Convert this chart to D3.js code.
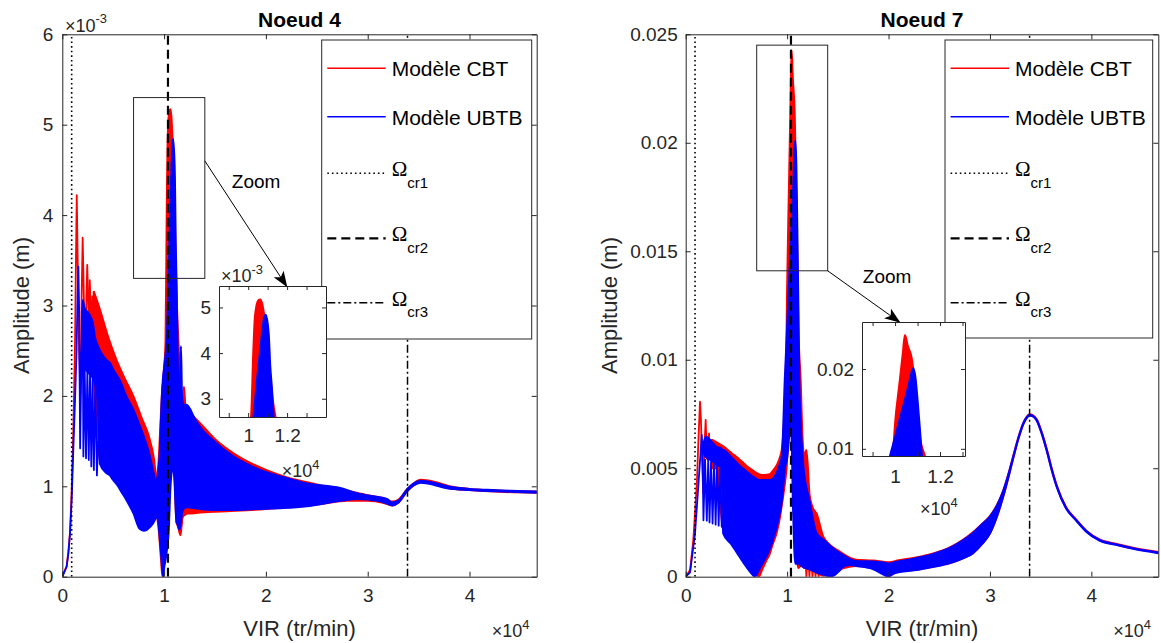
<!DOCTYPE html>
<html><head><meta charset="utf-8">
<script src="https://cdn.jsdelivr.net/npm/d3@7"></script>
<style>html,body{margin:0;padding:0;background:#fff;} svg{display:block;}</style>
</head><body>
<script>
// ================= DATA =================
// x values in tr/min, amplitudes in mm (x10^-3 m)
const seriesNames = ["Modèle CBT", "Modèle UBTB"];
const seriesColors = ["#ff0000", "#0000ff"];
const critSpeeds = [920, 10380, 33910];          // Ωcr1, Ωcr2, Ωcr3
const critNames = ["cr1", "cr2", "cr3"];
const panelTitles = ["Noeud 4", "Noeud 7"];

const xTicks = [0, 10000, 20000, 30000, 40000];
const xTickLabels = ["0", "1", "2", "3", "4"];
const n4YTicks = [0, 1, 2, 3, 4, 5, 6];
const n4YTickLabels = ["0", "1", "2", "3", "4", "5", "6"];
const n7YTicks = [0, 5, 10, 15, 20, 25];
const n7YTickLabels = ["0", "0.005", "0.01", "0.015", "0.02", "0.025"];
const insetXTicks = [9000, 10000, 11000, 12000, 13000];
const insetXTickLabels = ["", "1", "", "1.2", ""];
const n4InsetYTicks = [3, 4, 5];
const n4InsetYTickLabels = ["3", "4", "5"];
const n7InsetYTicks = [10, 20];
const n7InsetYTickLabels = ["0.01", "0.02"];

// ---- Noeud 4, Modèle CBT ----
const n4CbtLineX = [0,430,600,760,920,1080,1250,1350,1420,1500,1650,1780,1900,2000,2100,2220,2350,2450,2550,2630,2700,2800,2870,2950,3050,3100];
const n4CbtLineY = [0,0.12,0.28,0.5,0.95,1.6,2.6,3.6,4.22,3.6,2.5,2.03,3.1,3.75,3.2,2.4,3.0,3.45,3.0,2.5,3.28,2.9,2.5,3.1,2.7,3.15];
const n4CbtBandX = [3100,3700,4500,5300,6000,7000,7800,8500,9000,9250,9450,9700,9850,9900,10000,10150,10270,10350,10520,10620,10700,10830,11000,11130,11250,11400,11600,11700,11800,11950,12100,12200,12500,13500,15000,17000,20000,22000,25000,28000,30000,31500,32400,33000,33900,34500,35200,36500,38000,40000,43000,46600];
const n4CbtBandHi = [3.15,2.95,2.65,2.40,2.22,1.99,1.75,1.55,1.30,1.08,1.25,1.80,2.10,2.14,2.30,2.60,4.06,4.79,5.15,5.17,5.10,4.80,4.20,3.50,3.00,2.60,2.10,1.95,1.90,2.10,1.87,1.87,1.82,1.70,1.52,1.35,1.18,1.10,1.02,0.95,0.90,0.87,0.83,0.85,0.97,1.03,1.07,1.05,1.00,0.97,0.95,0.94];
const n4CbtBandLo = [2.2,1.3,1.2,1.1,0.95,0.75,0.60,0.60,0.65,0.68,0.55,0.20,0.00,0.05,0.20,0.40,0.60,0.80,1.50,1.80,1.80,1.50,1.40,0.80,0.60,0.55,0.46,0.55,0.65,0.68,0.69,0.70,0.70,0.71,0.72,0.73,0.75,0.77,0.80,0.84,0.84,0.82,0.79,0.82,0.95,1.01,1.05,1.03,0.98,0.96,0.94,0.93];

// ---- Noeud 4, Modèle UBTB ----
const n4UbtbLineX = [0,430,600,760,920,1080,1250,1400,1500,1580,1660,1750,1880,2000,2070,2200,2330,2465,2600,2725,2850,2975,3100,3250,3400,3520];
const n4UbtbLineY = [0,0.11,0.26,0.48,0.85,1.4,1.95,2.5,3.1,3.43,2.9,1.42,2.4,3.0,1.33,2.3,1.31,2.3,1.29,2.25,1.22,2.2,1.18,2.15,1.12,1.5];
const n4UbtbBandX = [1750,1900,2000,2150,2600,3000,3200,3500,3700,4300,4700,5000,5500,5700,6300,7000,7600,8000,8300,8600,8900,9200,9350,9600,9750,9900,10000,10150,10270,10440,10620,10830,10900,11050,11130,11220,11300,11400,11500,11650,11750,11900,12200,13000,13500,15000,16800,19000,21700,24000,27300,29000,31000,31900,32400,33000,33900,34500,35200,36000,37800,40000,41700,44000,46600];
const n4UbtbBandHi = [2.45,2.5,3.06,2.98,2.91,2.80,2.65,2.55,2.50,2.40,2.36,2.29,2.20,2.16,1.99,1.84,1.67,1.55,1.45,1.33,1.18,1.05,1.10,1.40,1.90,2.20,2.30,2.45,2.60,3.34,4.06,4.79,4.84,4.43,3.71,3.20,2.60,2.00,1.70,2.55,2.00,1.90,1.90,1.75,1.66,1.49,1.33,1.20,1.10,1.03,0.98,0.92,0.88,0.86,0.82,0.84,0.97,1.03,1.06,1.05,1.00,0.97,0.96,0.95,0.94];
const n4UbtbBandLo = [2.35,2.3,2.3,2.3,2.25,2.2,2.15,1.9,1.25,1.15,1.12,1.07,1.00,0.96,0.85,0.70,0.53,0.51,0.52,0.55,0.59,0.65,0.66,0.41,0.20,0.00,0.10,0.20,0.30,0.50,1.00,1.20,1.20,1.00,0.80,0.60,0.59,0.55,0.52,0.60,0.70,0.75,0.77,0.76,0.75,0.74,0.74,0.75,0.76,0.78,0.84,0.86,0.84,0.81,0.79,0.82,0.95,1.01,1.04,1.03,0.98,0.96,0.95,0.94,0.93];

// ---- Noeud 7, Modèle CBT ----
const n7CbtLineX = [0,430,750,1100,1240,1410,1500,1600,1730,1850,1970,2080,2150,2300,2380,2450,2550,2620];
const n7CbtLineY = [0,0.31,1.69,4.3,6.1,8.07,7.3,5.5,3.85,6.0,7.23,5.6,5.4,6.6,5.7,5.5,6.3,6.3];
const n7CbtTeethX = [11750,11900,12050,12200,12350,12500,12650,12800,12950,13100,13250];
const n7CbtTeethY = [1.3,0.0,1.3,0.0,1.2,0.0,1.1,0.0,1.0,0.0,0.9];
const n7CbtBandX = [2600,3000,3700,4500,5350,6000,6500,7000,7200,7500,8000,8300,8500,9000,9300,9500,9850,9950,10000,10200,10350,10440,10550,10740,10890,11000,11100,11330,11500,11700,11900,12200,12500,12900,13600,15200,16800,18500,20000,21000,22700,24500,26000,27300,28300,29200,30000,30700,31300,31900,32300,32800,33300,33650,33900,34200,34600,35100,35600,36100,36600,37500,38500,39500,40800,42500,44100,46600];
const n7CbtBandHi = [6.3,6.2,6.0,5.7,5.38,5.10,4.93,4.77,4.72,4.68,4.69,4.72,4.82,5.15,5.5,5.9,9.1,11.0,13.0,18.2,22.0,24.26,23.0,21.3,17.8,14.5,11.5,9.0,6.5,5.5,5.84,3.8,3.2,2.9,1.8,1.15,0.78,0.74,0.66,0.75,0.88,1.08,1.33,1.68,2.03,2.42,2.79,3.3,3.95,4.85,5.55,6.4,7.09,7.38,7.48,7.44,7.25,6.65,5.86,4.95,4.17,3.2,2.63,2.12,1.71,1.5,1.33,1.13];
const n7CbtBandLo = [5.0,5.0,2.2,1.7,1.1,0.6,0.35,0.08,0.0,0.3,0.8,1.08,1.4,2.1,2.77,3.4,4.6,5.07,5.5,7.0,8.0,8.0,7.0,4.0,2.0,0.8,0.4,0.5,0.5,0.4,0.4,0.35,0.3,0.2,0.05,0.35,0.5,0.4,0.05,0.25,0.32,0.48,0.62,0.85,1.08,1.5,2.0,2.8,3.7,4.75,5.5,6.38,7.07,7.36,7.46,7.42,7.23,6.63,5.84,4.93,4.15,3.18,2.61,2.10,1.69,1.48,1.31,1.11];

// ---- Noeud 7, Modèle UBTB ----
const n7UbtbLineX = [0,430,920,1240,1450,1580,1660,1750,1910,2080,2220,2350,2500,2650,2800,2950,3100,3250,3400,3550,3650];
const n7UbtbLineY = [0,0.2,2.0,4.15,5.6,6.54,5.8,2.6,5.4,2.58,5.4,2.5,5.3,2.45,5.3,2.4,5.2,2.35,5.1,2.3,3.0];
const n7UbtbBandX = [1700,2000,2400,3000,3500,3650,3700,4500,5350,6000,6500,6830,7000,7200,8300,9300,9500,9780,10000,10200,10400,10600,10810,10900,11000,11100,11190,11300,11600,12200,12900,13600,14300,15200,15500,16200,16800,18500,19500,20000,20500,22700,24500,26000,27300,28300,29200,30000,30700,31300,31900,32300,32800,33300,33650,33900,34200,34600,35100,35600,36100,36600,37500,38500,39500,40800,42500,44100,46600];
const n7UbtbBandHi = [6.0,6.46,6.3,6.0,5.9,5.84,5.84,5.5,5.1,4.85,4.65,4.55,4.5,4.45,4.45,5.2,5.6,9.1,11.4,13.6,15.7,17.9,20.1,19.0,16.0,12.5,9.1,7.5,5.07,3.5,2.0,1.7,1.4,1.08,1.0,0.8,0.72,0.70,0.65,0.6,0.65,0.85,1.06,1.31,1.66,2.0,2.4,2.77,3.28,3.93,4.83,5.53,6.38,7.07,7.36,7.46,7.42,7.23,6.63,5.84,4.93,4.15,3.18,2.61,2.10,1.69,1.48,1.31,1.11];
const n7UbtbBandLo = [5.8,5.5,5.4,5.2,5.0,3.5,2.0,1.5,0.9,0.45,0.15,0.0,0.1,0.3,1.3,3.0,3.6,5.0,5.5,6.5,7.0,3.0,0.6,0.6,0.6,0.6,0.63,0.55,0.45,0.35,0.2,0.1,0.0,0.3,0.46,0.54,0.5,0.35,0.1,0.0,0.15,0.31,0.46,0.62,0.84,1.08,1.5,2.0,2.8,3.7,4.75,5.5,6.36,7.05,7.34,7.44,7.40,7.21,6.61,5.82,4.91,4.13,3.16,2.59,2.08,1.67,1.46,1.29,1.09];

// zoom annotations (data coordinates)
const n4ZoomRect = [7000, 14000, 3.3, 5.3];
const n4Arrow = [[14000, 4.6], [22050, 3.21]];
const n4ZoomText = [16650, 4.30];
const n7ZoomRect = [7000, 14000, 14.1, 24.5];
const n7Arrow = [[14000, 14.1], [21100, 11.73]];
const n7ZoomText = [17470, 13.55];

// ================= DRAWING =================
const FONT = '"Liberation Sans", Arial, Helvetica, sans-serif';
const SERIF = '"Liberation Serif", "DejaVu Serif", serif';
const AX = '#262626';
const W = 1161, H = 643;
const svg = d3.select('body').append('svg').attr('width', W).attr('height', H)
  .attr('font-family', FONT);
const defs = svg.append('defs');
defs.append('marker').attr('id', 'arrowhead').attr('viewBox', '0 0 16 12')
  .attr('refX', 15).attr('refY', 6).attr('markerWidth', 16).attr('markerHeight', 12)
  .attr('markerUnits', 'userSpaceOnUse').attr('orient', 'auto')
  .append('path').attr('d', 'M0,0 L16,6 L0,12 L4,6 Z').attr('fill', '#000');

const critStyles = [
  {dash: '1.6,3', w: 1.6},
  {dash: '9,5', w: 2.2},
  {dash: '8,3,2,3', w: 1.5}
];

let clipCount = 0;
function makeAxes(cfg) {
  const x = d3.scaleLinear().domain(cfg.xDomain).range(cfg.xRange);
  const y = d3.scaleLinear().domain(cfg.yDomain).range(cfg.yRange);
  const g = svg.append('g');
  const [x0, x1] = cfg.xRange, [y0, y1] = cfg.yRange;
  if (cfg.background) g.append('rect').attr('x', x0).attr('y', y1)
    .attr('width', x1 - x0).attr('height', y0 - y1).attr('fill', '#fff');
  const id = 'clip' + (clipCount++);
  defs.append('clipPath').attr('id', id).append('rect')
    .attr('x', x0).attr('y', y1).attr('width', x1 - x0).attr('height', y0 - y1);
  const plot = g.append('g').attr('clip-path', `url(#${id})`);
  return {x, y, g, plot, cfg};
}

function drawSeries(ax, s) {
  const idx = d3.range(s.bandX.length);
  ax.plot.append('path').datum(idx)
    .attr('d', d3.area().curve(d3.curveMonotoneX)
      .x(i => ax.x(s.bandX[i])).y0(i => ax.y(s.bandLo[i])).y1(i => ax.y(s.bandHi[i])))
    .attr('fill', s.color).attr('stroke', s.color).attr('stroke-width', 2.2)
    .attr('stroke-linejoin', 'round');
  s.lines.forEach(([xs, ys]) => {
    ax.plot.append('path').datum(d3.range(xs.length))
      .attr('d', d3.line().x(i => ax.x(xs[i])).y(i => ax.y(ys[i])))
      .attr('fill', 'none').attr('stroke', s.color).attr('stroke-width', 1.8)
      .attr('stroke-linejoin', 'round');
  });
}

function styleAxis(sel, fs) {
  sel.attr('font-family', FONT).attr('font-size', fs);
  sel.selectAll('path.domain').attr('stroke', AX).attr('stroke-width', 1);
  sel.selectAll('.tick line').attr('stroke', AX);
  sel.selectAll('.tick text').attr('fill', AX);
}

function drawAxes(ax, c) {
  const [x0, x1] = c.xRange, [y0, y1] = c.yRange;
  const ts = c.tickLen;
  ax.g.append('g').attr('transform', `translate(0,${y0})`)
    .call(d3.axisBottom(ax.x).tickValues(c.xTicks).tickFormat((d, i) => c.xLabels[i])
      .tickSizeInner(-ts).tickSizeOuter(0).tickPadding(c.xPad))
    .call(s => styleAxis(s, c.fs));
  ax.g.append('g').attr('transform', `translate(0,${y1})`)
    .call(d3.axisTop(ax.x).tickValues(c.xTicks).tickFormat(() => '')
      .tickSizeInner(-ts).tickSizeOuter(0))
    .call(s => styleAxis(s, c.fs));
  ax.g.append('g').attr('transform', `translate(${x0},0)`)
    .call(d3.axisLeft(ax.y).tickValues(c.yTicks).tickFormat((d, i) => c.yLabels[i])
      .tickSizeInner(-ts).tickSizeOuter(0).tickPadding(c.yPad))
    .call(s => styleAxis(s, c.fs));
  ax.g.append('g').attr('transform', `translate(${x1},0)`)
    .call(d3.axisRight(ax.y).tickValues(c.yTicks).tickFormat(() => '')
      .tickSizeInner(-ts).tickSizeOuter(0))
    .call(s => styleAxis(s, c.fs));
}

function expLabel(g, x, y, exp, fs) {
  const t = g.append('text').attr('x', x).attr('y', y).attr('font-size', fs).attr('fill', AX);
  t.append('tspan').text('×10');
  t.append('tspan').attr('font-size', fs * 0.72).attr('dy', -fs * 0.47).text(exp);
}

function drawCritLines(ax) {
  critSpeeds.forEach((v, k) => {
    ax.plot.append('line')
      .attr('x1', ax.x(v)).attr('x2', ax.x(v))
      .attr('y1', ax.y(ax.cfg.yDomain[0])).attr('y2', ax.y(ax.cfg.yDomain[1]))
      .attr('stroke', '#000').attr('stroke-width', critStyles[k].w)
      .attr('stroke-dasharray', critStyles[k].dash);
  });
}

function drawLegend(bx, by, bw, bh) {
  const lg = svg.append('g');
  lg.append('rect').attr('x', bx).attr('y', by).attr('width', bw).attr('height', bh)
    .attr('fill', '#fff').attr('stroke', AX).attr('stroke-width', 1);
  const rowY = [by + 28.3, by + 76.7, by + 133.3, by + 198.3, by + 262.7];
  const lx0 = bx + 5.6, lx1 = bx + 64, tx = bx + 70;
  seriesNames.forEach((name, k) => {
    lg.append('line').attr('x1', lx0).attr('x2', lx1).attr('y1', rowY[k]).attr('y2', rowY[k])
      .attr('stroke', seriesColors[k]).attr('stroke-width', 1.5);
    lg.append('text').attr('x', tx).attr('y', rowY[k] + 8).attr('font-size', 21)
      .attr('fill', '#000').text(name);
  });
  critNames.forEach((name, k) => {
    const yy = rowY[k + 2];
    lg.append('line').attr('x1', lx0).attr('x2', lx1).attr('y1', yy).attr('y2', yy)
      .attr('stroke', '#000').attr('stroke-width', critStyles[k].w)
      .attr('stroke-dasharray', critStyles[k].dash);
    const t = lg.append('text').attr('x', tx).attr('y', yy + 3).attr('font-size', 21).attr('fill', '#000');
    t.append('tspan').attr('font-family', SERIF).text('Ω');
    t.append('tspan').attr('font-size', 15).attr('dy', 11.5).text(name);
  });
}

function drawZoomAnnot(ax, rect, arrow, txt) {
  const g = svg.append('g');
  g.append('rect').attr('x', ax.x(rect[0])).attr('y', ax.y(rect[3]))
    .attr('width', ax.x(rect[1]) - ax.x(rect[0])).attr('height', ax.y(rect[2]) - ax.y(rect[3]))
    .attr('fill', 'none').attr('stroke', AX).attr('stroke-width', 1);
  g.append('line').attr('x1', ax.x(arrow[0][0])).attr('y1', ax.y(arrow[0][1]))
    .attr('x2', ax.x(arrow[1][0])).attr('y2', ax.y(arrow[1][1]))
    .attr('stroke', '#000').attr('stroke-width', 1).attr('marker-end', 'url(#arrowhead)');
  g.append('text').attr('x', ax.x(txt[0])).attr('y', ax.y(txt[1])).attr('font-size', 19)
    .attr('fill', '#000').text('Zoom');
}

const n4Series = [
  {color: seriesColors[0], bandX: n4CbtBandX, bandLo: n4CbtBandLo, bandHi: n4CbtBandHi, lines: [[n4CbtLineX, n4CbtLineY]]},
  {color: seriesColors[1], bandX: n4UbtbBandX, bandLo: n4UbtbBandLo, bandHi: n4UbtbBandHi, lines: [[n4UbtbLineX, n4UbtbLineY]]}
];
const n7Series = [
  {color: seriesColors[0], bandX: n7CbtBandX, bandLo: n7CbtBandLo, bandHi: n7CbtBandHi, lines: [[n7CbtLineX, n7CbtLineY], [n7CbtTeethX, n7CbtTeethY]]},
  {color: seriesColors[1], bandX: n7UbtbBandX, bandLo: n7UbtbBandLo, bandHi: n7UbtbBandHi, lines: [[n7UbtbLineX, n7UbtbLineY]]}
];

const panels = [
  {main: {xDomain: [0, 46600], yDomain: [0, 6], xRange: [62.3, 536.7], yRange: [576.7, 34.3],
          xTicks: xTicks, xLabels: xTickLabels, yTicks: n4YTicks, yLabels: n4YTickLabels,
          tickLen: 5, fs: 19, xPad: 12, yPad: 9},
   series: n4Series, title: panelTitles[0], yExp: '-3',
   legend: [321.7, 40, 210, 299], zoom: [n4ZoomRect, n4Arrow, n4ZoomText],
   labelX: 29,
   inset: {xDomain: [8500, 14000], yDomain: [2.6, 5.47], xRange: [219, 326], yRange: [417, 286],
           xTicks: insetXTicks, xLabels: insetXTickLabels, yTicks: n4InsetYTicks, yLabels: n4InsetYTickLabels,
           tickLen: 4, fs: 19, xPad: 12, yPad: 8, background: true},
   insetYExp: [221, 282, '-3'], insetXExp: [281.7, 477]},
  {main: {xDomain: [0, 46600], yDomain: [0, 25], xRange: [685.7, 1158.3], yRange: [576.7, 34.3],
          xTicks: xTicks, xLabels: xTickLabels, yTicks: n7YTicks, yLabels: n7YTickLabels,
          tickLen: 5, fs: 19, xPad: 12, yPad: 8},
   series: n7Series, title: panelTitles[1], yExp: null,
   legend: [945, 40, 207.7, 298], zoom: [n7ZoomRect, n7Arrow, n7ZoomText],
   labelX: 617,
   inset: {xDomain: [8530, 13110], yDomain: [9.1, 25.9], xRange: [862, 965], yRange: [456, 322],
           xTicks: insetXTicks, xLabels: insetXTickLabels, yTicks: n7InsetYTicks, yLabels: n7InsetYTickLabels,
           tickLen: 4, fs: 19, xPad: 14, yPad: 8, background: true},
   insetYExp: null, insetXExp: [920, 515]}
];

panels.forEach(p => {
  const ax = makeAxes(p.main);
  p.series.forEach(s => drawSeries(ax, s));
  drawCritLines(ax);
  drawAxes(ax, p.main);
  const [x0, x1] = p.main.xRange, [y0, y1] = p.main.yRange;
  svg.append('text').attr('x', (x0 + x1) / 2).attr('y', 26.7).attr('text-anchor', 'middle')
    .attr('font-size', 21).attr('font-weight', 'bold').attr('fill', '#000').text(p.title);
  svg.append('text').attr('x', (x0 + x1) / 2).attr('y', 636).attr('text-anchor', 'middle')
    .attr('font-size', 22).attr('fill', AX).text('VIR (tr/min)');
  svg.append('text').attr('transform', `translate(${p.labelX},${(y0 + y1) / 2}) rotate(-90)`)
    .attr('text-anchor', 'middle').attr('font-size', 22).attr('fill', AX).text('Amplitude (m)');
  expLabel(svg, x1 - 45, 637, '4', 18);
  if (p.yExp) expLabel(svg, x0 + 2.7, 31.7, p.yExp, 18);
  drawLegend(...p.legend);
  drawZoomAnnot(ax, ...p.zoom);
  const ins = makeAxes(p.inset);
  p.series.forEach(s => drawSeries(ins, s));
  drawAxes(ins, p.inset);
  if (p.insetYExp) expLabel(svg, p.insetYExp[0], p.insetYExp[1], p.insetYExp[2], 18);
  expLabel(svg, p.insetXExp[0], p.insetXExp[1], '4', 18);
});
</script>
</body></html>
